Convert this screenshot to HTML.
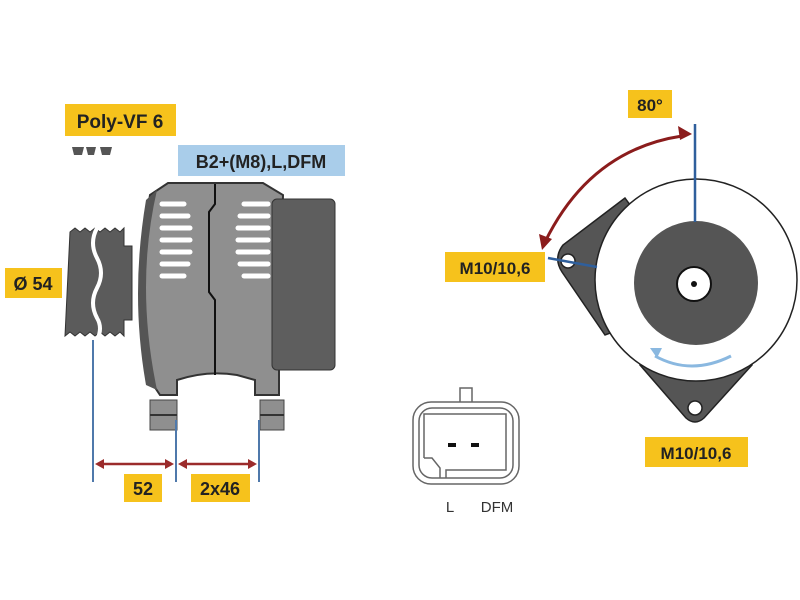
<!DOCTYPE html>
<html><head><style>body{margin:0;background:#fff}svg{display:block}text{font-family:"Liberation Sans",sans-serif;font-weight:bold}</style></head>
<body>
<svg width="800" height="600" viewBox="0 0 800 600" xmlns="http://www.w3.org/2000/svg">
<rect width="800" height="600" fill="#fff"/>
<rect x="65" y="104" width="111" height="32" fill="#f6c21c"/>
<text x="120" y="128" font-size="19" text-anchor="middle" fill="#222">Poly-VF 6</text>
<path d="M72 147h12l-2 8h-8z M86 147h10l-2 8h-6z M100 147h12l-2 8h-8z" fill="#555"/>
<rect x="178" y="145" width="167" height="31" fill="#a9cdea"/>
<text x="261" y="168" font-size="18" text-anchor="middle" fill="#222">B2+(M8),L,DFM</text>
<rect x="5" y="268" width="57" height="30" fill="#f6c21c"/>
<text x="33" y="290" font-size="18" text-anchor="middle" fill="#222">Ø 54</text>
<path d="M70 232 l5 -4 5 4 5 -4 5 4 5 -4 5 4 5 -4 5 4 5 -4 5 4 4 -4 V246 H132 V320 H124 V336 l-4 -4 -5 4 -5 -4 -5 4 -5 -4 -5 4 -5 -4 -5 4 -5 -4 -5 4 -5 -4 -5 4 z" fill="#5b5b5b" stroke="#333"/>
<path d="M97 228 q-8 15 0 30 q8 15 0 30 q-8 15 0 30 q6 10 0 22" stroke="#fff" stroke-width="4" fill="none"/>
<path d="M150 195 q-12 70 0 185 l10 15 h17 V380 q30 -10 60 -5 l18 5 V395 h24 V340 L283 195 l-20 -12 H168 z" fill="#8f8f8f" stroke="#333" stroke-width="2"/>
<path d="M157 190 q-22 95 0 200 L146 385 q-16 -90 0 -185z" fill="#555"/>
<path d="M215 184 v20 l-6 8 v80 l6 8 v75" stroke="#111" stroke-width="2" fill="none"/>
<g stroke="#fff" stroke-width="5" stroke-linecap="round">
<line x1="162" y1="204" x2="184" y2="204"/><line x1="162" y1="216" x2="188" y2="216"/><line x1="162" y1="228" x2="190" y2="228"/><line x1="162" y1="240" x2="190" y2="240"/><line x1="162" y1="252" x2="190" y2="252"/><line x1="162" y1="264" x2="188" y2="264"/><line x1="162" y1="276" x2="184" y2="276"/>
<line x1="244" y1="204" x2="268" y2="204"/><line x1="240" y1="216" x2="268" y2="216"/><line x1="238" y1="228" x2="268" y2="228"/><line x1="238" y1="240" x2="268" y2="240"/><line x1="238" y1="252" x2="268" y2="252"/><line x1="240" y1="264" x2="268" y2="264"/><line x1="244" y1="276" x2="268" y2="276"/>
</g>
<rect x="272" y="199" width="63" height="171" rx="5" fill="#5e5e5e" stroke="#333"/>
<rect x="150" y="400" width="27" height="30" fill="#8f8f8f" stroke="#444"/>
<rect x="260" y="400" width="24" height="30" fill="#8f8f8f" stroke="#444"/>
<line x1="150" y1="415" x2="177" y2="415" stroke="#333" stroke-width="2"/><line x1="260" y1="415" x2="284" y2="415" stroke="#333" stroke-width="2"/>
<g stroke="#4f79ab" stroke-width="2"><line x1="93" y1="340" x2="93" y2="482"/><line x1="176" y1="420" x2="176" y2="482"/><line x1="259" y1="420" x2="259" y2="482"/></g>
<g stroke="#9b2b2b" stroke-width="2.5"><line x1="100" y1="464" x2="170" y2="464"/><line x1="183" y1="464" x2="252" y2="464"/></g>
<g fill="#9b2b2b"><path d="M95 464l9-5v10z M174 464l-9-5v10z M178 464l9-5v10z M257 464l-9-5v10z"/></g>
<rect x="124" y="474" width="38" height="28" fill="#f6c21c"/><text x="143" y="495" font-size="18" text-anchor="middle" fill="#222">52</text>
<rect x="191" y="474" width="59" height="28" fill="#f6c21c"/><text x="220" y="495" font-size="18" text-anchor="middle" fill="#222">2x46</text>
<rect x="460" y="388" width="12" height="15" fill="none" stroke="#666" stroke-width="1.5"/>
<rect x="413" y="402" width="106" height="82" rx="18" fill="#fff" stroke="#666" stroke-width="1.5"/>
<rect x="419" y="408" width="94" height="70" rx="13" fill="none" stroke="#666" stroke-width="1.5"/>
<path d="M424 458 V414 h82 V470 h-60 v8 M424 458 h8 l8 10 v10" fill="none" stroke="#666" stroke-width="1.5"/>
<rect x="448" y="443" width="8" height="4" fill="#111"/><rect x="471" y="443" width="8" height="4" fill="#111"/>
<text x="450" y="512" font-size="15" text-anchor="middle" fill="#333" style="font-weight:normal">L</text>
<text x="497" y="512" font-size="15" text-anchor="middle" fill="#333" style="font-weight:normal">DFM</text>
<path d="M625 198 L563 245 Q553 258 562 272 L605 335 L700 300 Z" fill="#555" stroke="#222" stroke-width="1.5"/>
<path d="M640 365 L686 418 Q695 426 704 418 L752 365 L700 300 Z" fill="#555" stroke="#222" stroke-width="1.5"/>
<circle cx="568" cy="261" r="7" fill="#fff" stroke="#222" stroke-width="1.5"/>
<circle cx="695" cy="408" r="7" fill="#fff" stroke="#222" stroke-width="1.5"/>
<circle cx="696" cy="280" r="101" fill="#fff" stroke="#222" stroke-width="1.5"/>
<circle cx="696" cy="283" r="62" fill="#555"/>
<circle cx="694" cy="284" r="17" fill="#fff" stroke="#111" stroke-width="2"/>
<circle cx="694" cy="284" r="3" fill="#111"/>
<path d="M731 356 q-40 20 -76 0" stroke="#8ab8e0" stroke-width="3" fill="none"/>
<path d="M650 348 l12 0 -5 10z" fill="#8ab8e0"/>
<line x1="695" y1="124" x2="695" y2="222" stroke="#2f5f9c" stroke-width="2.5"/>
<line x1="548" y1="258" x2="597" y2="267" stroke="#2f5f9c" stroke-width="2.5"/>
<path d="M682 136 Q590 150 545 242" stroke="#8b1c1c" stroke-width="3" fill="none"/>
<path d="M692 134 l-14 -8 2 14z M542 250 l-3 -16 13 5z" fill="#8b1c1c"/>
<rect x="628" y="90" width="44" height="28" fill="#f6c21c"/><text x="650" y="111" font-size="17" text-anchor="middle" fill="#222">80°</text>
<rect x="445" y="252" width="100" height="30" fill="#f6c21c"/><text x="495" y="274" font-size="17" text-anchor="middle" fill="#222">M10/10,6</text>
<rect x="645" y="437" width="103" height="30" fill="#f6c21c"/><text x="696" y="459" font-size="17" text-anchor="middle" fill="#222">M10/10,6</text>
</svg>
</body></html>
